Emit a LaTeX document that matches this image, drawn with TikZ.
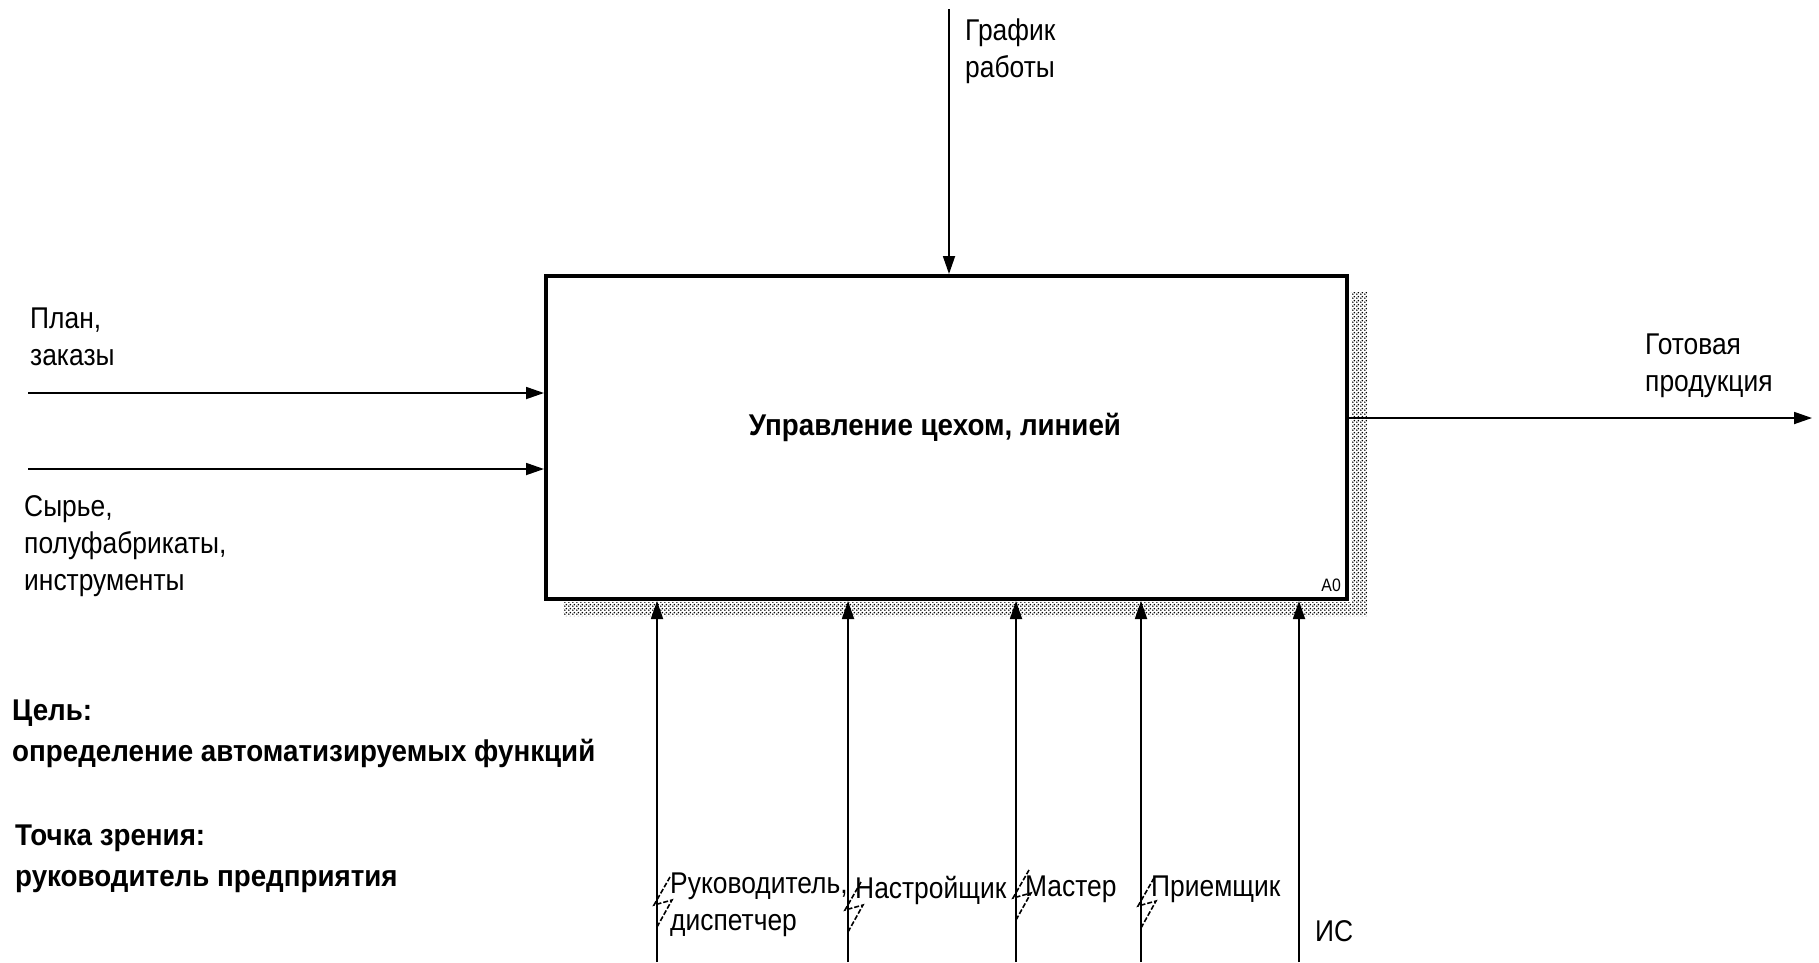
\documentclass[tikz,border=0pt]{standalone}
\usepackage{fontspec}
\setmainfont[FakeStretch=0.88]{Liberation Sans}
\newfontfamily\bfam[FakeStretch=0.925]{Liberation Sans}
\usetikzlibrary{arrows.meta,patterns}
\pgfdeclarepatternformonly{idefdots}{\pgfqpoint{0pt}{0pt}}{\pgfqpoint{4pt}{4pt}}{\pgfqpoint{4pt}{4pt}}{%
  \pgfpathcircle{\pgfqpoint{1pt}{1pt}}{1.05pt}%
  \pgfpathcircle{\pgfqpoint{3pt}{3pt}}{1.05pt}%
  \pgfusepath{fill}}
\tikzset{
  arr/.style={line width=1.8pt,-{Triangle[length=18pt,width=12pt]}},
  lbl/.style={inner sep=0pt,align=left,anchor=north west,font=\fontsize{30}{37}\selectfont},
  blbl/.style={inner sep=0pt,align=left,anchor=base west,font=\fontsize{30}{37}\selectfont\bfam\bfseries},
  zz/.style={line width=1.6pt,dash pattern=on 5pt off 2pt},
  func/.style={draw,line width=4pt,minimum width=801pt,minimum height=323pt,inner sep=0pt}
}
\newcommand\zig[2]{\draw[zz] (#1,#2) -- ++(15,-27) -- ++(-18,5) -- ++(16,-28);}
\begin{document}
\begin{tikzpicture}[x=1pt,y=-1pt]
\useasboundingbox (0,0) rectangle (1819,962);
% shadow
\fill[pattern=idefdots,pattern color=black] (1351,292) -- (1367,292) -- (1367,616) -- (563,616) -- (563,602) -- (1351,602) -- cycle;
% function box
\node[func] (A0) at (946.5,437.5) {};
\node[anchor=base,inner sep=0pt,font=\fontsize{30}{37}\selectfont\bfam\bfseries] (title) at (935,435) {Управление цехом, линией};
\node[anchor=base east,inner sep=0pt,font=\fontsize{18}{20}\selectfont] (a0lbl) at (1341,591) {A0};
% control
\coordinate (ctl) at (949,9);
\draw[arr] (ctl) -- (ctl |- A0.north);
\node[lbl] (ctlt) at (965,19) {График\\работы};
% inputs
\coordinate (in1) at (28,393);
\coordinate (in2) at (28,469);
\draw[arr] (in1) -- (in1 -| A0.west);
\draw[arr] (in2) -- (in2 -| A0.west);
\node[lbl] (in1t) at (30,308) {План,\\заказы};
\node[lbl] (in2t) at (24,495) {Сырье,\\полуфабрикаты,\\инструменты};
% output
\coordinate (out) at (1812,418);
\draw[arr] (out -| A0.east) -- (out);
\node[lbl] (outt) at (1645,334) {Готовая\\продукция};
% mechanisms
\coordinate (m1) at (657,962);
\coordinate (m2) at (848,962);
\coordinate (m3) at (1016,962);
\coordinate (m4) at (1141,962);
\coordinate (m5) at (1299,962);
\foreach \m in {m1,m2,m3,m4,m5} {\draw[arr] (\m) -- (\m |- A0.south);}
\node[lbl] (m1t) at (670,873) {Руководитель,\\диспетчер};
\node[lbl] (m2t) at (855,876) {Настройщик};
\node[lbl] (m3t) at (1025,876) {Мастер};
\node[lbl] (m4t) at (1151,876) {Приемщик};
\node[lbl] (m5t) at (1315,920) {ИС};
\zig{657}{927}
\zig{848}{932}
\zig{1016}{920}
\zig{1141}{928}
% purpose / viewpoint
\node[blbl] (goal1) at (12,720) {Цель:};
\node[blbl] (goal2) at (12,761) {определение автоматизируемых функций};
\node[blbl] (vp1) at (15,845) {Точка зрения:};
\node[blbl] (vp2) at (15,886) {руководитель предприятия};
\end{tikzpicture}
\end{document}
